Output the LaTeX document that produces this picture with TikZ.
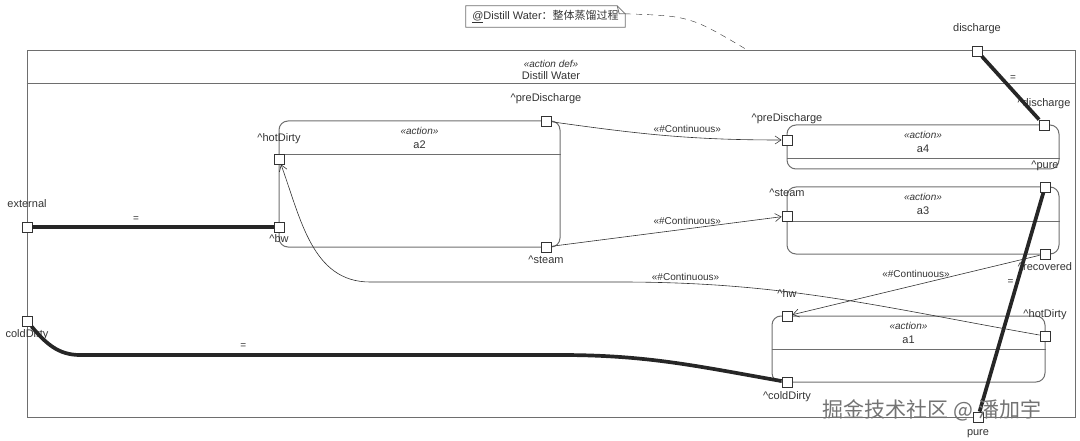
\documentclass[tikz,border=0pt]{standalone}
\usepackage{fontspec}
\setmainfont{Liberation Sans}
\newfontfamily\cjk{Noto Sans CJK SC}
\usetikzlibrary{positioning,arrows.meta}
\definecolor{framegray}{HTML}{6E6E6E}
\definecolor{inkgray}{HTML}{333333}
\newcommand{\cont}{«\#Continuous»}
\newcommand{\stereo}[1]{{\fontsize{10}{11}\selectfont\itshape «#1»}}

\begin{document}
\begin{tikzpicture}[
    x=1pt, y=-1pt,
    every node/.style={font=\fontsize{11}{13}\selectfont, text=inkgray},
    box/.style={draw=framegray, line width=1pt},
    act/.style={box, rounded corners=9pt, inner sep=0pt},
    port/.style={draw=inkgray, fill=white, line width=0.8pt, minimum size=10pt, inner sep=0pt},
    lbl/.style={inner sep=0pt, text height=8pt, text depth=2pt},
    hdr/.style={inner sep=0pt, align=center},
    small/.style={inner sep=1pt, font=\fontsize{10}{11}\selectfont},
    arrow/.style={-{Straight Barb[length=6pt,width=8pt]}, draw=inkgray, line width=0.6pt},
    bind/.style={draw=black!85, line width=3.7pt}
]
\useasboundingbox (0,0) rectangle (1080,441);

% frame
\node[box, minimum width=1048pt, minimum height=366pt, inner sep=0pt] (f) at (551,234) {};
\draw[box] ([yshift=-33pt]f.north west) -- ([yshift=-33pt]f.north east);
\node[hdr, below=9.5pt of f.north] (ft) {\stereo{action def}\\[-1pt]Distill Water};

% note
\node[inner sep=0pt, minimum width=159pt, minimum height=21pt] (n) at (545.5,16.5) {\underline{@}Distill Water{\cjk ：整体蒸馏过程}};
\draw[box, line width=0.8pt] (n.north west) -- ([xshift=-8pt]n.north east) -- ([yshift=-8pt]n.north east) -- (n.south east) -- (n.south west) -- cycle;
\draw[box, line width=0.8pt] ([xshift=-8pt]n.north east) -- ([xshift=-6pt,yshift=-8pt]n.north east) -- ([yshift=-8pt]n.north east);
\coordinate (na) at (749,51);
\draw[draw=inkgray, dash pattern=on 6pt off 5pt] ([yshift=-8pt]n.north east) .. controls (690,16) .. (na);

% actions
\node[act, minimum width=281pt, minimum height=126pt] (a2) at (419.5,184) {};
\node[act, minimum width=272pt, minimum height=44pt] (a4) at (923,147) {};
\node[act, minimum width=272pt, minimum height=67pt] (a3) at (923,220.5) {};
\node[act, minimum width=273pt, minimum height=66pt] (a1) at (908.5,349) {};
\draw[box] ([yshift=-34pt]a2.north west) -- ([yshift=-34pt]a2.north east);
\draw[box] ([yshift=-34pt]a4.north west) -- ([yshift=-34pt]a4.north east);
\draw[box] ([yshift=-35pt]a3.north west) -- ([yshift=-35pt]a3.north east);
\draw[box] ([yshift=-34pt]a1.north west) -- ([yshift=-34pt]a1.north east);
\node[hdr, below=7pt of a2.north] (a2t) {\stereo{action}\\[1pt]a2};
\node[hdr, below=7pt of a4.north] (a4t) {\stereo{action}\\[1pt]a4};
\node[hdr, below=7pt of a3.north] (a3t) {\stereo{action}\\[1pt]a3};
\node[hdr, below=7pt of a1.north] (a1t) {\stereo{action}\\[1pt]a1};

% ports
\node[port] (ext) at (27,227) {};
\node[port] (cold) at (27,321) {};
\node[port] (dis) at (977,51) {};
\node[port] (pure) at (978,417) {};
\node[port] (a2hot) at (279,159) {};
\node[port] (a2bw) at (279,227) {};
\node[port] (a2pre) at (546,121) {};
\node[port] (a2stm) at (546,247) {};
\node[port] (a4pre) at (787,140) {};
\node[port] (a4dis) at (1044,125) {};
\node[port] (a3stm) at (787,216) {};
\node[port] (a3pure) at (1045,187) {};
\node[port] (a3rec) at (1045,254) {};
\node[port] (a1hw) at (787,316) {};
\node[port] (a1hot) at (1045,336) {};
\node[port] (a1cold) at (787,382) {};

\node[lbl, above=12pt of ext] (l-ext) {external};
\node[lbl, below=3pt of cold] (l-cold) {coldDirty};
\node[lbl, above=12pt of dis] (l-dis) {discharge};
\node[lbl, below=5pt of pure] (l-pure) {pure};
\node[lbl, above=10pt of a2hot] (l-a2hot) {\textasciicircum{}hotDirty};
\node[lbl, below=2pt of a2bw] (l-a2bw) {\textasciicircum{}bw};
\node[lbl, above=12pt of a2pre] (l-a2pre) {\textasciicircum{}preDischarge};
\node[lbl, below=3pt of a2stm] (l-a2stm) {\textasciicircum{}steam};
\node[lbl, above=11pt of a4pre] (l-a4pre) {\textasciicircum{}preDischarge};
\node[lbl, above=11pt of a4dis] (l-a4dis) {\textasciicircum{}discharge};
\node[lbl, above=12pt of a3stm] (l-a3stm) {\textasciicircum{}steam};
\node[lbl, above=11pt of a3pure] (l-a3pure) {\textasciicircum{}pure};
\node[lbl, below=3pt of a3rec] (l-a3rec) {\textasciicircum{}recovered};
\node[lbl, above=11pt of a1hw] (l-a1hw) {\textasciicircum{}hw};
\node[lbl, above=11pt of a1hot] (l-a1hot) {\textasciicircum{}hotDirty};
\node[lbl, below=4pt of a1cold] (l-a1cold) {\textasciicircum{}coldDirty};

% bindings
\coordinate (c1) at (80,355);
\coordinate (c2) at (560,355);
\draw[bind] (ext) -- node[small, above=3pt, pos=0.43] (eq1) {=} (a2bw);
\draw[bind] (cold) to[out=-50,in=180] (c1) -- node[small, above=4pt, pos=0.34] (eq2) {=} (c2) to[out=0,in=170] (a1cold);
\draw[bind] (dis) -- node[small, right=6pt, pos=0.34] (eq3) {=} (a4dis);
\draw[bind] (a3pure) -- node[small, left=1pt, pos=0.41] (eq4) {=} (pure);

% flows
\coordinate (k1) at (620,282);
\coordinate (k2) at (370,282);
\draw[arrow] (a2pre) to[out=-8,in=180] node[small, above=3pt, pos=0.6] (f1) {\cont} (a4pre);
\draw[arrow] (a2stm) -- node[small, above=3pt, pos=0.59] (f2) {\cont} (a3stm);
\draw[arrow] (a1hot) to[out=170,in=0] node[small, above=1pt, pos=0.86] (f3) {\cont} (k1) -- (k2) to[out=180,in=-70] (a2hot);
\draw[arrow] (a3rec) -- node[small, above=6pt, pos=0.5] (f4) {\cont} (a1hw);

\node[font=\cjk\fontsize{21}{21}\selectfont, text=black!55] (wm) at (932,410) {掘金技术社区 @ 潘加宇};
\end{tikzpicture}
\end{document}
